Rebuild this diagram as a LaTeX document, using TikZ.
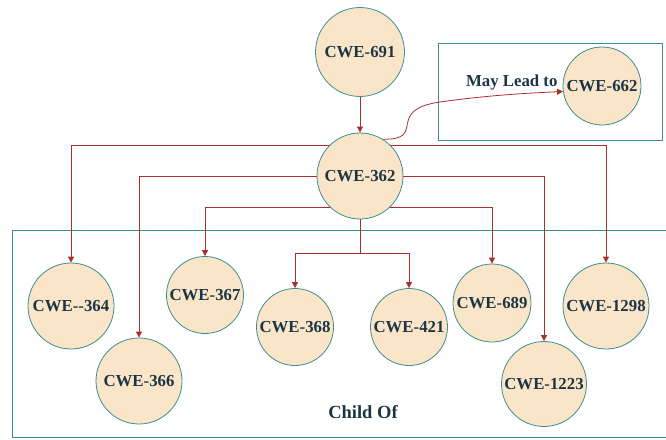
\documentclass[tikz,border=0pt]{standalone}
\usepackage{fontspec}
\setmainfont{Liberation Serif}
\usetikzlibrary{arrows.meta}
\definecolor{cfill}{HTML}{FAE5C8}
\definecolor{cline}{HTML}{3D8F8C}
\definecolor{ctext}{HTML}{1B3545}
\definecolor{cedge}{HTML}{A8302C}
\begin{document}
\begin{tikzpicture}[x=1pt,y=-1pt,
  cwe/.style={circle,draw=cline,fill=cfill,line width=0.8pt,inner sep=0pt,
    text=ctext,font=\bfseries\fontsize{16.8}{18}\selectfont},
  edge/.style={draw=cedge,line width=0.8pt},
  arr/.style={edge,-{Triangle[length=6pt,width=6pt]}},
  frame/.style={draw=cline,line width=0.8pt},
  lbl/.style={text=ctext,font=\bfseries\fontsize{16.8}{18}\selectfont}]
\useasboundingbox (0,0) rectangle (666,439);
\draw[frame] (438,43) rectangle (662,140);
\draw[frame] (666,230) -- (12,230) -- (12,437) -- (666,437);
\node[cwe,minimum size=89pt] (c691) at (360,52) {CWE-691};
\node[cwe,minimum size=86pt] (c362) at (360,176) {CWE-362};
\node[cwe,minimum size=78pt] (c662) at (602,86) {CWE-662};
\node[lbl,anchor=east] (may) at (561,82) {May Lead to};
\node[cwe,minimum size=86pt] (c364) at (71,306) {CWE-{}-364};
\node[cwe,minimum size=86pt] (c366) at (139,381) {CWE-366};
\node[cwe,minimum size=77pt] (c367) at (205,295) {CWE-367};
\node[cwe,minimum size=77pt] (c368) at (295,327) {CWE-368};
\node[cwe,minimum size=77pt] (c421) at (409,327) {CWE-421};
\node[cwe,minimum size=78pt] (c689) at (492,303) {CWE-689};
\node[cwe,minimum size=86pt] (c1298) at (606,306) {CWE-1298};
\node[cwe,minimum size=85pt] (c1223) at (544,384) {CWE-1223};
\node[lbl,font=\bfseries\fontsize{18.5}{20}\selectfont] (child) at (363,412) {Child Of};
\coordinate (j) at (360,253);
\draw[arr] (c691) -- (c362);
\draw[arr] (c362.58) .. controls (428,140) and (384,110) .. (440,102)
  .. controls (490,95) and (530,93) .. (c662.188);
\draw[arr] (c362.136) -| (c364);
\draw[arr] (c362.44) -| (c1298);
\draw[arr] (c362.west) -| (c366);
\draw[arr] (c362.east) -| (c1223);
\draw[arr] (c362.-134) -| (c367);
\draw[arr] (c362.-46) -| (c689);
\draw[edge] (c362.south) -- (j);
\draw[arr] (j) -| (c368);
\draw[arr] (j) -| (c421);
\end{tikzpicture}
\end{document}
